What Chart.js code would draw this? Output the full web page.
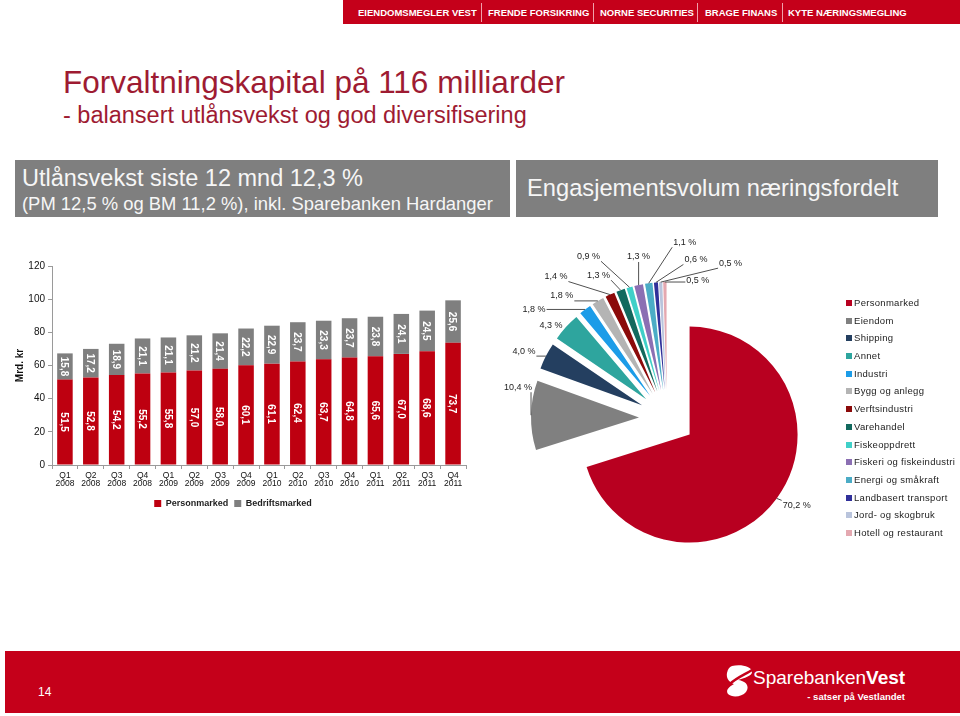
<!DOCTYPE html>
<html><head><meta charset="utf-8">
<script src="https://cdn.jsdelivr.net/npm/chart.js@4.4.1/dist/chart.umd.min.js"></script>
<style>
html,body{margin:0;padding:0;background:#fff;}
body{width:960px;height:716px;position:relative;overflow:hidden;font-family:"Liberation Sans",Arial,sans-serif;}
.abs{position:absolute;white-space:nowrap;}
#topbar{left:343px;top:0;width:617px;height:24px;background:#C5001A;}
.tb{position:absolute;top:0;height:24px;line-height:26px;color:#fff;font-weight:bold;font-size:9.5px;white-space:nowrap;}
.sep{position:absolute;top:3px;width:1px;height:19px;background:#f0a0aa;}
#title{left:63px;top:64px;font-size:31.5px;color:#9E1B32;line-height:36px;}
#sub{left:63px;top:102px;font-size:23.5px;color:#9E1B32;line-height:27px;}
.box{background:#7F7F7F;color:#f6f6f6;}
#boxL{left:15px;top:160px;width:495px;height:57px;}
#boxR{left:516px;top:160px;width:422px;height:57px;}
#footer{left:5px;top:651px;width:955px;height:62px;background:#C5001A;}
#pieLegend{left:846px;top:294px;font-size:9.5px;color:#222;letter-spacing:0.3px;}
#pieLegend div{height:17.7px;line-height:17.7px;}
#pieLegend span{display:inline-block;width:6px;height:6px;margin-right:2px;vertical-align:0px;}
</style></head>
<body>
<div id="topbar" class="abs">
  <div class="tb" style="left:15px">EIENDOMSMEGLER VEST</div>
  <div class="sep" style="left:138px"></div>
  <div class="tb" style="left:145px">FRENDE FORSIKRING</div>
  <div class="sep" style="left:250px"></div>
  <div class="tb" style="left:257px">NORNE SECURITIES</div>
  <div class="sep" style="left:354px"></div>
  <div class="tb" style="left:362px">BRAGE FINANS</div>
  <div class="sep" style="left:439px"></div>
  <div class="tb" style="left:445px">KYTE NÆRINGSMEGLING</div>
</div>
<div id="title" class="abs">Forvaltningskapital på 116 milliarder</div>
<div id="sub" class="abs">- balansert utlånsvekst og god diversifisering</div>
<div id="boxL" class="abs box">
  <div class="abs" style="left:7px;top:5px;font-size:23.5px;line-height:26px;">Utlånsvekst siste 12 mnd 12,3 %</div>
  <div class="abs" style="left:7px;top:34px;font-size:18.4px;line-height:20px;">(PM 12,5 % og BM 11,2 %), inkl. Sparebanken Hardanger</div>
</div>
<div id="boxR" class="abs box">
  <div class="abs" style="left:11px;top:14px;font-size:23.7px;line-height:28px;">Engasjementsvolum næringsfordelt</div>
</div>

<canvas id="bar" class="abs" style="left:0;top:250px;" width="480" height="268"></canvas>
<canvas id="pie" class="abs" style="left:487px;top:228px;" width="360" height="380"></canvas>
<div id="pieLegend" class="abs"></div>

<div id="footer" class="abs">
  <div class="abs" style="left:33px;top:34px;color:#fff;font-size:12px;">14</div>
  <svg class="abs" style="left:721px;top:13px;" width="28" height="34" viewBox="0 0 28 34">
    <path d="M6 2 C14 0 26 2 26 8 C26 12 18 14 12 16 C20 17 24 22 20 28 C16 33 6 34 2 30 C-1 26 4 22 8 20 C3 18 0 14 1 9 C2 5 3 3 6 2 Z" fill="#fff"/>
    <path d="M4 20 C10 14 20 10 26 6" stroke="#C5001A" stroke-width="2.5" fill="none"/>
  </svg>
  <div class="abs" style="left:748px;top:15px;color:#fff;font-size:19px;line-height:24px;">Sparebanken<b>Vest</b></div>
  <div class="abs" style="left:800px;top:40px;width:100px;text-align:right;color:#fff;font-size:9.5px;line-height:12px;font-weight:bold;">- satser på Vestlandet</div>
</div>

<script>
// ---------- data ----------
const quarters = [['Q1','2008'],['Q2','2008'],['Q3','2008'],['Q4','2008'],
                  ['Q1','2009'],['Q2','2009'],['Q3','2009'],['Q4','2009'],
                  ['Q1','2010'],['Q2','2010'],['Q3','2010'],['Q4','2010'],
                  ['Q1','2011'],['Q2','2011'],['Q3','2011'],['Q4','2011']];
const personmarked   = [51.5,52.8,54.2,55.2,55.8,57.0,58.0,60.1,61.1,62.4,63.7,64.8,65.6,67.0,68.6,73.7];
const bedriftsmarked = [15.8,17.2,18.9,21.1,21.1,21.2,21.4,22.2,22.9,23.7,23.3,23.7,23.8,24.1,24.5,25.6];
const barSeriesNames = ['Personmarked','Bedriftsmarked'];
const yAxisTitle = 'Mrd. kr';

const sectors = ['Personmarked','Eiendom','Shipping','Annet','Industri','Bygg og anlegg','Verftsindustri',
                 'Varehandel','Fiskeoppdrett','Fiskeri og fiskeindustri','Energi og småkraft',
                 'Landbasert transport','Jord- og skogbruk','Hotell og restaurant'];
const sectorShares = [70.2,10.4,4.0,4.3,1.8,1.8,1.4,1.3,0.9,1.3,1.1,0.6,0.5,0.5];

// ---------- styles ----------
const FONT = '"Liberation Sans", Arial, sans-serif';
const barColors = ['#BE0010','#7F7F7F'];
const sectorColors = ['#B80020','#808080','#243F60','#2EA59E','#1C9CE8','#B4B4B4','#8B0A0A',
                      '#12695E','#40D0C8','#8B6FB3','#4BACC6','#30309A','#B9C4DC','#E4A8B0'];
const fmt = v => v.toFixed(1).replace('.', ',');

// ---------- bar chart ----------
const barLabelPlugin = {
  id: 'barLabels',
  afterDatasetsDraw(chart) {
    const ctx = chart.ctx;
    ctx.save();
    ctx.font = 'bold 10px ' + FONT;
    ctx.fillStyle = '#fff';
    ctx.textAlign = 'center';
    ctx.textBaseline = 'middle';
    chart.data.datasets.forEach((ds, di) => {
      chart.getDatasetMeta(di).data.forEach((bar, i) => {
        const cy = (bar.y + bar.base) / 2;
        ctx.save();
        ctx.translate(bar.x, cy);
        ctx.rotate(Math.PI / 2);
        ctx.fillText(fmt(ds.data[i]), 0, 1);
        ctx.restore();
      });
    });
    ctx.restore();
  }
};

new Chart(document.getElementById('bar'), {
  type: 'bar',
  data: {
    labels: quarters,
    datasets: [
      {label: barSeriesNames[0], data: personmarked, backgroundColor: barColors[0], barPercentage: 0.6, categoryPercentage: 1.0},
      {label: barSeriesNames[1], data: bedriftsmarked, backgroundColor: barColors[1], barPercentage: 0.6, categoryPercentage: 1.0}
    ]
  },
  options: {
    responsive: false, animation: false,
    layout: {padding: {top: 16, right: 14, left: 0, bottom: 0}},
    plugins: {
      tooltip: {enabled: false},
      legend: {
        position: 'bottom',
        labels: {boxWidth: 7, boxHeight: 7, padding: 6, color: '#222', font: {family: FONT, size: 9, weight: 'bold'}}
      }
    },
    scales: {
      x: {
        stacked: true,
        grid: {drawOnChartArea: false, tickLength: 4, color: '#9a9a9a'},
        border: {color: '#9a9a9a'},
        ticks: {color: '#111', font: {family: FONT, size: 8.5, lineHeight: 1.0}, padding: 2, maxRotation: 0, autoSkip: false},
        afterFit: s => { s.height = 28; }
      },
      y: {
        stacked: true, min: 0, max: 120,
        grid: {drawOnChartArea: false, tickLength: 4, color: '#9a9a9a'},
        border: {color: '#9a9a9a'},
        ticks: {stepSize: 20, color: '#111', font: {family: FONT, size: 10}, padding: 3},
        title: {display: true, text: yAxisTitle, color: '#111', font: {family: FONT, size: 10, weight: 'bold'}, padding: {top: 14, bottom: 0}},
        afterFit: s => { s.width = 52; }
      }
    }
  },
  plugins: [barLabelPlugin]
});

// ---------- pie chart ----------
const EXPLODE = 28;
// label placement relative to the outer edge point of each slice
const pieLabelShift = [[20,7],[-13,-28],[-22,-5],[-15,-2],[-51,0],[-36,-5],[-54,-18],
                       [-22,-15],[-41,-31],[0,-28],[36,-41],[40,-23],[70,-19],[33,-2]];

const explodePlugin = {
  id: 'explode',
  afterDatasetUpdate(chart, args) {
    args.meta.data.forEach(el => {
      if (el._exploded) return;
      const orig = el.draw.bind(el);
      el.draw = function (ctx, area) {
        const h = (this.startAngle + this.endAngle) / 2;
        ctx.save();
        ctx.translate(Math.cos(h) * EXPLODE, Math.sin(h) * EXPLODE);
        orig(ctx, area);
        ctx.restore();
      };
      el._exploded = true;
    });
  }
};

const pieLabelPlugin = {
  id: 'pieLabels',
  afterDatasetsDraw(chart) {
    const ctx = chart.ctx;
    const ds = chart.data.datasets[0];
    ctx.save();
    ctx.font = '9px ' + FONT;
    ctx.textAlign = 'center';
    ctx.textBaseline = 'middle';
    chart.getDatasetMeta(0).data.forEach((arc, i) => {
      const h = (arc.startAngle + arc.endAngle) / 2;
      const r = arc.outerRadius + EXPLODE;
      const px = arc.x + Math.cos(h) * r, py = arc.y + Math.sin(h) * r;
      const cx = px + pieLabelShift[i][0], cy = py + pieLabelShift[i][1];
      const txt = fmt(ds.data[i]) + ' %';
      const hw = ctx.measureText(txt).width / 2 + 1;
      const bx = Math.min(Math.max(px, cx - hw), cx + hw);
      const by = Math.min(Math.max(py, cy - 5), cy + 5);
      if (Math.hypot(px - bx, py - by) > 5) {
        ctx.strokeStyle = '#505050';
        ctx.lineWidth = 1;
        ctx.beginPath();
        ctx.moveTo(bx, by);
        ctx.lineTo(px, py);
        ctx.stroke();
      }
      ctx.fillStyle = '#222';
      ctx.fillText(txt, cx, cy);
    });
    ctx.restore();
  }
};

new Chart(document.getElementById('pie'), {
  type: 'pie',
  data: {
    labels: sectors,
    datasets: [{data: sectorShares, backgroundColor: sectorColors, borderWidth: 0, radius: 108}]
  },
  options: {
    responsive: false, animation: false,
    layout: {padding: 0},
    plugins: {legend: {display: false}, tooltip: {enabled: false}}
  },
  plugins: [explodePlugin, pieLabelPlugin]
});

// legend for the pie
const leg = document.getElementById('pieLegend');
sectors.forEach((s, i) => {
  const d = document.createElement('div');
  const sw = document.createElement('span');
  sw.style.background = sectorColors[i];
  d.appendChild(sw);
  d.appendChild(document.createTextNode(s));
  leg.appendChild(d);
});
</script>
</body></html>
